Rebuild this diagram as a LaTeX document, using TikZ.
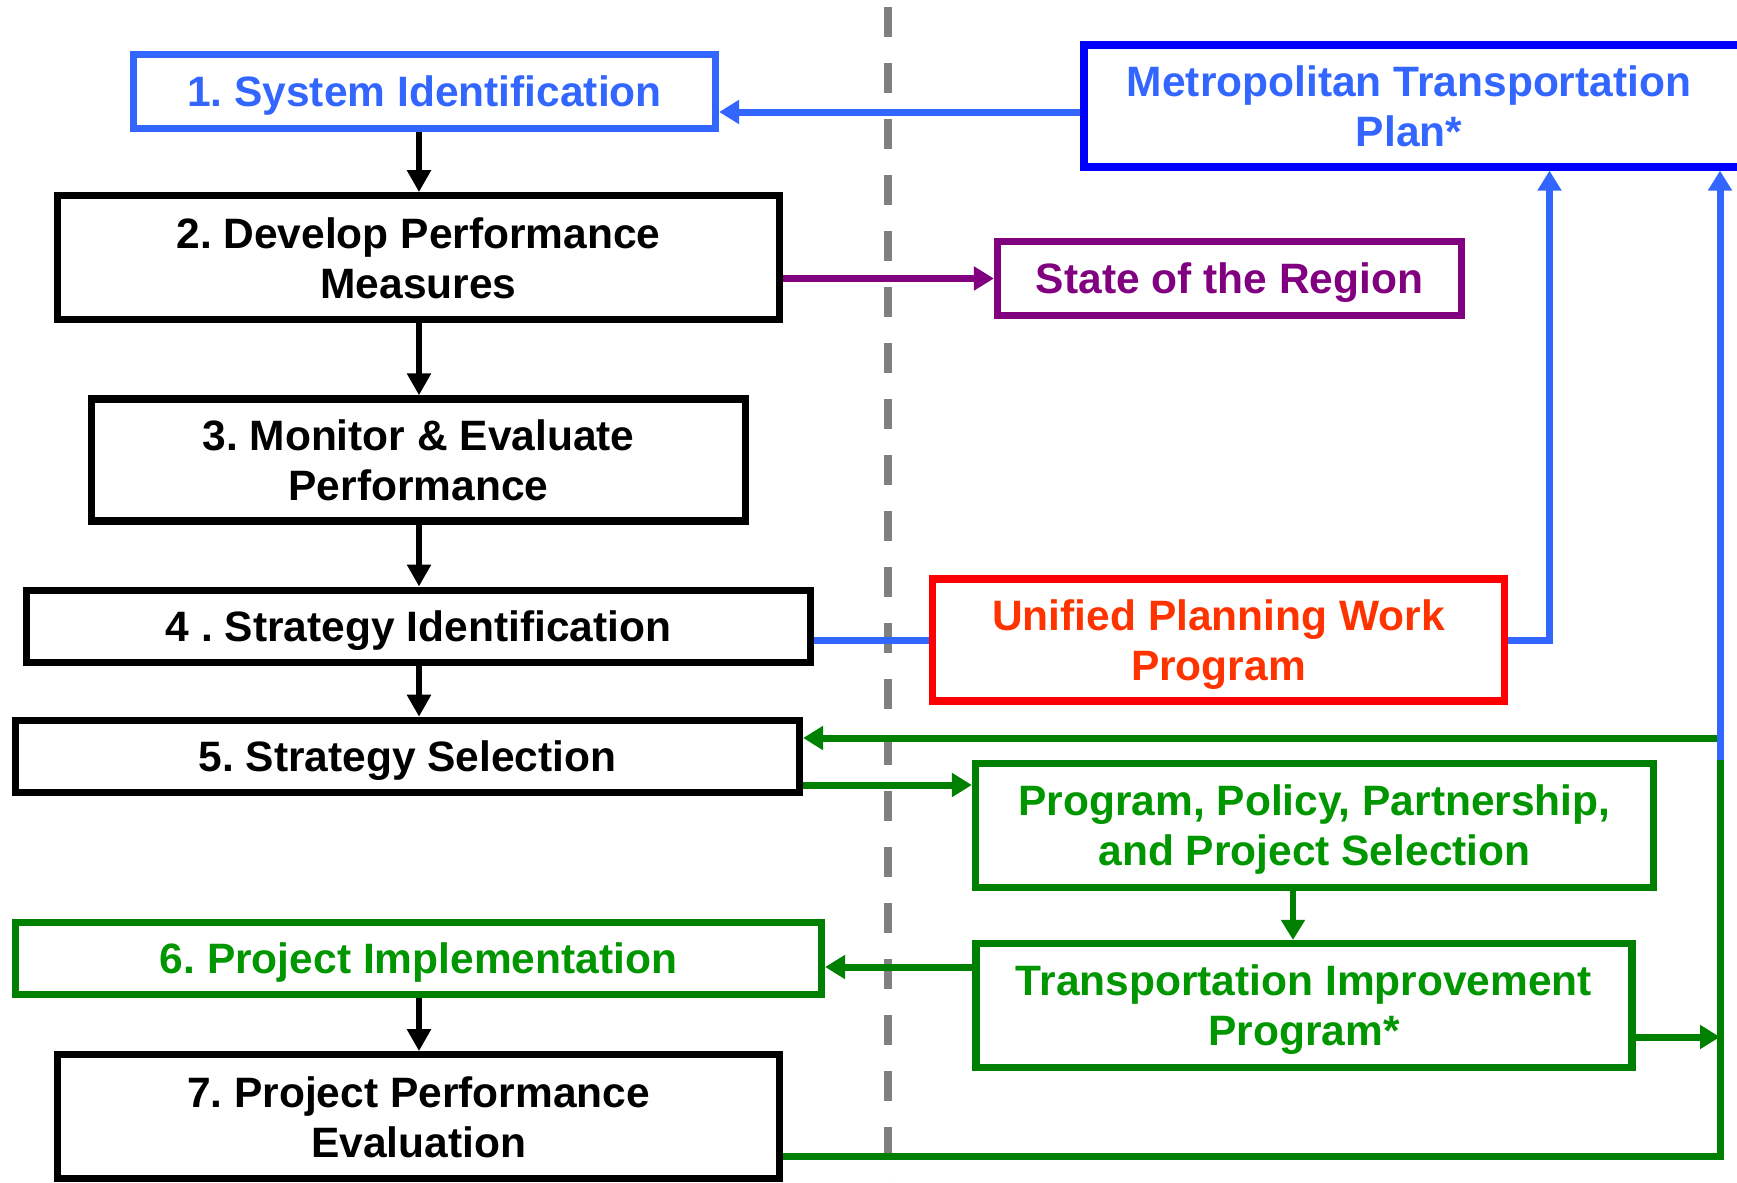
\documentclass[tikz,border=0pt]{standalone}
\usepackage{fontspec}
\setmainfont{Liberation Sans}
\usepackage{tikz}
\usetikzlibrary{
  arrows.meta,
  calc,
  positioning,
}
\definecolor{sysblue}{RGB}{51, 102, 255}
\definecolor{mtpblue}{RGB}{0, 0, 255}
\definecolor{regionpurple}{RGB}{128, 0, 128}
\definecolor{upwpred}{RGB}{255, 0, 0}
\definecolor{upwptext}{RGB}{255, 51, 0}
\definecolor{plangreen}{RGB}{0, 128, 0}
\definecolor{plantext}{RGB}{0, 150, 0}
\definecolor{dividergray}{RGB}{128, 128, 128}
\tikzstyle{stage} = [
  draw,
  rectangle,
  line width=3.6pt,
  align=center,
  inner sep=0pt,
  text depth=0pt,
  font=\fontsize{21.25}{25}\selectfont\bfseries\frenchspacing,
]
\tikzstyle{flowarrow} = [
  -{Triangle[length=11pt,width=11.5pt]},
  line width=3pt,
  black,
]
\tikzstyle{bluelink} = [
  -{Triangle[length=10pt,width=11.5pt]},
  line width=3.5pt,
  sysblue,
]
\tikzstyle{greenlink} = [
  -{Triangle[length=10pt,width=11.5pt]},
  line width=3.5pt,
  plangreen,
]
\tikzstyle{divider} = [
  line width=4pt,
  dividergray,
  dash pattern=on 15.3pt off 12.7pt,
]

\begin{document}
\begin{tikzpicture}[node distance=30pt and 0pt]
  \useasboundingbox (0,0) rectangle (868.5pt,-591.5pt);
  \clip (0,0) rectangle (868.5pt,-591.5pt);

  % dashed divider behind everything
  \draw[divider] (444pt,-3.35pt) -- (444pt,-591.5pt);

  % left column
  \node[stage,minimum width=291pt,minimum height=37pt,draw=sysblue,text=sysblue] (sys) at (212.25pt,-45.75pt) {1. System Identification};
  \node[stage,minimum width=361pt,minimum height=62pt,xshift=-3pt] (measures) [below=30pt of sys] {2. Develop Performance\\Measures};
  \node[stage,minimum width=327pt,minimum height=61pt] (monitor) [below=36pt of measures] {3. Monitor \& Evaluate\\Performance};
  \node[stage,minimum width=392pt,minimum height=36pt] (strategy) [below=31pt of monitor] {4 . Strategy Identification};
  \node[stage,minimum width=392pt,minimum height=36pt,xshift=-5.5pt] (selection) [below=25.5pt of strategy] {5. Strategy Selection};
  \node[stage,minimum width=403pt,minimum height=36pt,xshift=5.5pt,draw=plangreen,text=plantext] (implement) [below=61.5pt of selection] {6. Project Implementation};
  \node[stage,minimum width=361pt,minimum height=62pt] (evaluation) [below=26.5pt of implement] {7. Project Performance\\Evaluation};

  % right column (plan box runs off the page)
  \node[stage,minimum width=340pt,minimum height=61pt,draw=mtpblue,text=sysblue] (mtp) at (712pt,-53pt) {Metropolitan Transportation\hspace*{15pt}\\Plan*\hspace*{15pt}};
  \node[stage,minimum width=232pt,minimum height=37pt,draw=regionpurple,text=regionpurple] (region) at (614.75pt,-139.25pt) {State of the Region};
  \node[stage,minimum width=286pt,minimum height=61pt,draw=upwpred,text=upwptext] (upwp) at (609.25pt,-320pt) {Unified Planning Work\\Program};
  \node[stage,minimum width=339pt,minimum height=62pt,draw=plangreen,text=plantext] (pppp) at (657.25pt,-412.75pt) {Program, Policy, Partnership,\\and Project Selection};
  \node[stage,minimum width=328pt,minimum height=62pt,draw=plangreen,text=plantext] (tip) at (652pt,-502.75pt) {Transportation Improvement\\Program*};

  % helper points
  \coordinate (spine) at (209.5pt,0);
  \coordinate (mtpin) at (0,-56pt);
  \coordinate (upx) at (774.75pt,0);
  \coordinate (rail) at (860pt,-380pt);
  \coordinate (back) at (860pt,-369pt);
  \coordinate (out7) at (0,-578.35pt);
  \coordinate (sel) at (0,-392.5pt);
  \coordinate (down) at (646.5pt,0);
  \coordinate (tipin) at (0,-483.5pt);
  \coordinate (tipout) at (860pt,-518.5pt);

  % main flow
  \draw[flowarrow] (sys.south -| spine) -- (measures.north -| spine);
  \draw[flowarrow] (measures.south -| spine) -- (monitor.north -| spine);
  \draw[flowarrow] (monitor.south -| spine) -- (strategy.north -| spine);
  \draw[flowarrow] (strategy.south -| spine) -- (selection.north -| spine);
  \draw[flowarrow] (implement.south -| spine) -- (evaluation.north -| spine);

  % links to the plans
  \draw[bluelink] (mtp.west |- mtpin) -- (sys.east |- mtpin);
  \draw[bluelink,regionpurple] (measures.east |- region.west) -- (region.west);
  \draw[line width=3.5pt,sysblue] (strategy.east |- upwp.west) -- (upwp.west);
  \draw[bluelink] (upwp.east) -| (upx |- mtp.south);
  \draw[greenlink] (evaluation.east |- out7) -| (back) -- (selection.east |- back);
  \draw[bluelink] (rail) -- (rail |- mtp.south);
  \draw[greenlink] (selection.east |- sel) -- (pppp.west |- sel);
  \draw[greenlink,line width=3pt] (down |- pppp.south) -- (down |- tip.north);
  \draw[greenlink] (tip.west |- tipin) -- (implement.east |- tipin);
  \draw[greenlink] (tip.east |- tipout) -- (tipout);
\end{tikzpicture}
\end{document}
